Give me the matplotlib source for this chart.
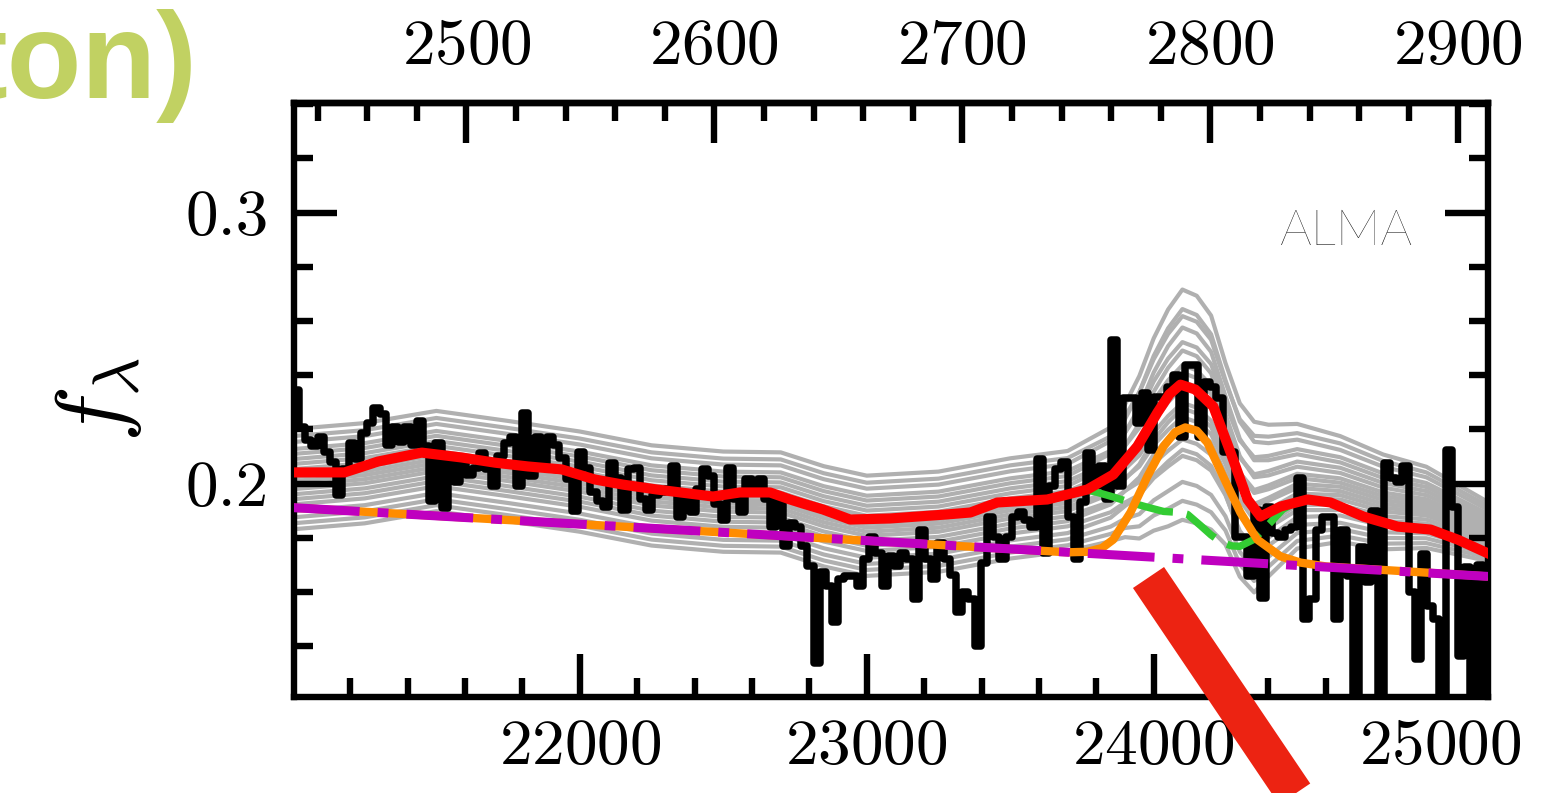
import numpy as np
import matplotlib
matplotlib.use("Agg")
import matplotlib.pyplot as plt
from matplotlib.lines import Line2D
from matplotlib.ticker import MultipleLocator, FormatStrFormatter

plt.rcParams["font.family"] = "serif"
plt.rcParams["font.serif"] = ["cmr10"]
plt.rcParams["mathtext.fontset"] = "cm"
plt.rcParams["axes.formatter.use_mathtext"] = True
plt.rcParams["axes.unicode_minus"] = False

# --- data ---
one_plus_z = 8.642          # observed / rest wavelength

# observed spectrum (channel fluxes, 21.6 A channels starting at 21000 A)
chan_start = 21000.0
chan_width = 21.6
spec_flux = [
    0.2347, 0.2210, 0.2162, 0.2137, 0.2170, 0.2118, 0.2081, 0.1959, 0.2052, 0.2151,
    0.2089, 0.2188, 0.2225, 0.2280, 0.2255, 0.2144, 0.2210, 0.2155, 0.2207, 0.2144,
    0.2229, 0.2137, 0.1934, 0.2151, 0.1911, 0.2077, 0.2007, 0.2077, 0.2033, 0.2059,
    0.2114, 0.2052, 0.1989, 0.2100, 0.2151, 0.2170, 0.1989, 0.2262, 0.2026, 0.2170,
    0.2077, 0.2170, 0.2144, 0.2096, 0.2015, 0.1897, 0.2118, 0.2059, 0.1967, 0.1934,
    0.1915, 0.2077, 0.2022, 0.1904, 0.2052, 0.2059, 0.1941, 0.1904, 0.1959, 0.1967,
    0.1978, 0.2063, 0.1875, 0.1941, 0.1893, 0.1978, 0.2052, 0.2026, 0.1923, 0.1867,
    0.2059, 0.1941, 0.1893, 0.2015, 0.1978, 0.2015, 0.1941, 0.1841, 0.1941, 0.1768,
    0.1856, 0.1841, 0.1768, 0.1694, 0.1339, 0.1672, 0.1620, 0.1487, 0.1646, 0.1657,
    0.1657, 0.1620, 0.1720, 0.1804, 0.1745, 0.1620, 0.1731, 0.1694, 0.1745, 0.1720,
    0.1572, 0.1830, 0.1720, 0.1646, 0.1782, 0.1720, 0.1664, 0.1524, 0.1598, 0.1572,
    0.1399, 0.1708, 0.1878, 0.1804, 0.1720, 0.1804, 0.1878, 0.1893, 0.1867, 0.1841,
    0.2089, 0.1745, 0.1989, 0.2052, 0.2081, 0.1878, 0.1720, 0.1930, 0.2114, 0.1989,
    0.2063, 0.1941, 0.2531, 0.1989, 0.2317, 0.2317, 0.2225, 0.2336, 0.2125, 0.2321,
    0.2321, 0.2358, 0.2402, 0.2173, 0.2439, 0.2439, 0.2173, 0.2373, 0.2358, 0.2317,
    0.2118, 0.2118, 0.1804, 0.1804, 0.1657, 0.1904, 0.1579, 0.1915, 0.1819, 0.1801,
    0.1830, 0.1841, 0.2022, 0.1498, 0.1572, 0.1830, 0.1878, 0.1878, 0.1498, 0.1830,
    0.1657, 0.1150, 0.1764, 0.1635, 0.1897, 0.1150, 0.2077, 0.2022, 0.2004, 0.2063,
    0.1598, 0.1351, 0.1738, 0.1546, 0.1498, 0.1150, 0.2125, 0.1915, 0.1362, 0.1690,
    0.1150, 0.1700, 0.1150,
]

# model draws (grey), sampled on a common wavelength grid
gray_wave = [21000, 21250, 21500, 21750, 22000, 22250, 22500, 22700, 22850, 23000,
             23250, 23500, 23700, 23850, 23900, 23950, 24000, 24050, 24100, 24150,
             24200, 24250, 24300, 24350, 24400, 24500, 24650, 24800, 24950, 25160]
gray_samples = [
    [.2201, .2223, .2268, .2231, .2192, .2141, .2118, .2115, .2064, .2029, .2044, .2093, .2120, .2207, .2292,
     .2397, .2536, .2642, .2716, .2693, .2620, .2445, .2296, .2228, .2217, .2220, .2175, .2107, .2062, .1935],
    [.2175, .2197, .2242, .2205, .2166, .2115, .2092, .2089, .2038, .2003, .2018, .2067, .2094, .2174, .2248,
     .2337, .2459, .2552, .2618, .2597, .2531, .2374, .2237, .2176, .2173, .2186, .2148, .2083, .2041, .1920],
    [.2153, .2175, .2220, .2183, .2144, .2093, .2070, .2067, .2016, .1981, .1996, .2045, .2072, .2157, .2238,
     .2338, .2471, .2573, .2644, .2622, .2551, .2382, .2229, .2154, .2149, .2162, .2124, .2062, .2023, .1906],
    [.2127, .2149, .2194, .2157, .2118, .2067, .2044, .2041, .1990, .1955, .1970, .2019, .2046, .2121, .2188,
     .2266, .2377, .2461, .2522, .2502, .2441, .2296, .2159, .2097, .2102, .2127, .2097, .2037, .2002, .1891],
    [.2109, .2131, .2176, .2139, .2100, .2049, .2026, .2023, .1972, .1937, .1952, .2001, .2028, .2110, .2188,
     .2282, .2410, .2507, .2576, .2554, .2486, .2323, .2165, .2086, .2086, .2108, .2078, .2020, .1987, .1880],
    [.2090, .2112, .2157, .2120, .2081, .2030, .2007, .2004, .1953, .1918, .1933, .1982, .2009, .2079, .2139,
     .2206, .2306, .2381, .2437, .2418, .2362, .2229, .2095, .2034, .2046, .2081, .2058, .2002, .1972, .1869],
    [.2072, .2094, .2139, .2102, .2063, .2012, .1989, .1986, .1935, .1900, .1915, .1964, .1991, .2068, .2139,
     .2222, .2339, .2427, .2491, .2470, .2407, .2256, .2101, .2023, .2030, .2062, .2039, .1985, .1957, .1858],
    [.2053, .2075, .2120, .2083, .2044, .1993, .1970, .1967, .1916, .1881, .1896, .1945, .1972, .2039, .2096,
     .2157, .2252, .2322, .2376, .2357, .2304, .2177, .2040, .1976, .1993, .2036, .2019, .1967, .1942, .1847],
    [.2038, .2060, .2105, .2068, .2029, .1978, .1955, .1952, .1901, .1866, .1881, .1930, .1957, .2029, .2093,
     .2165, .2271, .2350, .2409, .2389, .2331, .2192, .2041, .1965, .1979, .2020, .2003, .1953, .1930, .1838],
    [.2023, .2045, .2090, .2053, .2014, .1963, .1940, .1937, .1886, .1851, .1866, .1915, .1942, .2004, .2054,
     .2104, .2188, .2249, .2298, .2280, .2232, .2117, .1985, .1924, .1947, .1999, .1988, .1939, .1918, .1829],
    [.2009, .2031, .2076, .2039, .2000, .1949, .1926, .1923, .1872, .1837, .1852, .1901, .1928, .1998, .2058,
     .2125, .2225, .2300, .2356, .2337, .2281, .2148, .1996, .1917, .1936, .1984, .1972, .1925, .1906, .1821],
    [.1994, .2016, .2061, .2024, .1985, .1934, .1911, .1908, .1857, .1822, .1837, .1886, .1913, .1972, .2019,
     .2063, .2142, .2198, .2245, .2227, .2182, .2073, .1939, .1876, .1904, .1963, .1957, .1911, .1894, .1812],
    [.1979, .2001, .2046, .2009, .1970, .1919, .1896, .1893, .1842, .1807, .1822, .1871, .1898, .1962, .2016,
     .2071, .2161, .2226, .2278, .2259, .2209, .2088, .1940, .1865, .1890, .1947, .1941, .1897, .1882, .1803],
    [.1960, .1982, .2027, .1990, .1951, .1900, .1877, .1874, .1823, .1788, .1803, .1852, .1879, .1933, .1973,
     .2006, .2074, .2121, .2163, .2146, .2106, .2009, .1879, .1818, .1853, .1921, .1922, .1880, .1867, .1792],
    [.1942, .1964, .2009, .1972, .1933, .1882, .1859, .1856, .1805, .1770, .1785, .1834, .1861, .1923, .1973,
     .2023, .2107, .2168, .2217, .2199, .2151, .2036, .1886, .1807, .1837, .1902, .1902, .1862, .1852, .1781],
    [.1923, .1945, .1990, .1953, .1914, .1863, .1840, .1837, .1786, .1751, .1766, .1815, .1842, .1894, .1930,
     .1958, .2020, .2063, .2102, .2086, .2048, .1957, .1825, .1760, .1800, .1876, .1882, .1844, .1837, .1770],
    [.1898, .1920, .1965, .1928, .1889, .1838, .1815, .1812, .1761, .1726, .1741, .1790, .1817, .1874, .1917,
     .1956, .2029, .2081, .2125, .2108, .2065, .1962, .1813, .1733, .1771, .1847, .1855, .1820, .1816, .1755],
    [.1875, .1897, .1942, .1905, .1866, .1815, .1792, .1789, .1738, .1703, .1718, .1767, .1794, .1841, .1870,
     .1887, .1938, .1972, .2006, .1991, .1958, .1879, .1748, .1682, .1729, .1817, .1832, .1799, .1798, .1741],
    [.1853, .1875, .1920, .1883, .1844, .1793, .1770, .1767, .1716, .1681, .1696, .1745, .1772, .1814, .1836,
     .1842, .1882, .1907, .1936, .1922, .1894, .1827, .1702, .1640, .1693, .1788, .1808, .1778, .1780, .1728],
    [.1831, .1853, .1898, .1861, .1822, .1771, .1748, .1745, .1694, .1659, .1674, .1723, .1750, .1787, .1802,
     .1797, .1826, .1842, .1866, .1853, .1830, .1775, .1656, .1598, .1657, .1760, .1785, .1757, .1762, .1715],
]

# best-fit total model (red)
red_wave = [21000, 21180, 21296, 21449, 21589, 21704, 21819, 21937, 22052, 22150,
            22268, 22464, 22558, 22663, 22733, 22778, 22848, 22942, 23082, 23281,
            23361, 23455, 23629, 23769, 23859, 23943, 24013, 24055, 24093, 24145,
            24208, 24268, 24327, 24372, 24442, 24536, 24616, 24731, 24850, 24965,
            25059, 25165]
red_flux = [0.2041, 0.2041, 0.2081, 0.2114, 0.2096, 0.2077, 0.2063, 0.2052, 0.2015, 0.1996,
            0.1978, 0.1952, 0.1967, 0.1967, 0.1941, 0.1926, 0.1904, 0.1867, 0.1871, 0.1886,
            0.1893, 0.1930, 0.1941, 0.1978, 0.2033, 0.2137, 0.2262, 0.2330, 0.2365, 0.2347,
            0.2284, 0.2114, 0.1941, 0.1878, 0.1915, 0.1941, 0.1930, 0.1878, 0.1841, 0.1830,
            0.1793, 0.1742]

# continuum + Mg II line (orange)
orange_wave = [21000, 23700, 23769, 23820, 23859, 23919, 23978, 24034, 24075, 24110,
               24150, 24187, 24242, 24302, 24361, 24442, 24512, 24600, 25165]
orange_flux = [0.1911, 0.1746, 0.1748, 0.1762, 0.1793, 0.1893, 0.2026, 0.2137, 0.2190, 0.2207,
               0.2195, 0.2151, 0.2026, 0.1893, 0.1793, 0.1731, 0.1708, 0.1694, 0.1657]

# model without the Mg II line (green, dashed)
green_wave = [23772, 23804, 23860, 23919, 23980, 24034, 24093, 24118, 24163, 24200,
              24233, 24270, 24300, 24348, 24407, 24450, 24480]
green_flux = [0.1975, 0.1967, 0.1950, 0.1930, 0.1912, 0.1897, 0.1893, 0.1886, 0.1845, 0.1810,
              0.1785, 0.1770, 0.1768, 0.1793, 0.1856, 0.1905, 0.1922]

# power-law continuum (magenta, dash-dot)
cont_wave = [21000, 25165]
cont_flux = [0.1911, 0.1657]

spec_wave = chan_start + chan_width * (np.arange(len(spec_flux)) + 0.5)

# --- figure ---
fig = plt.figure(figsize=(15.64, 7.93), dpi=100)
ax = fig.add_axes([0.1880, 0.1211, 0.7634, 0.7491])

for sample in gray_samples:
    ax.plot(gray_wave, sample, color="#b0b0b0", lw=3.0, zorder=1)
ax.plot(spec_wave, spec_flux, drawstyle="steps-mid", color="black", lw=5.4, zorder=2)
ax.plot(green_wave, green_flux, color="#33cc33", lw=5.3, dashes=(5.0, 1.9), zorder=3)
ax.plot(orange_wave, orange_flux, color="#ff8c00", lw=6.0, zorder=4)
ax.plot(cont_wave, cont_flux, color="#bf00bf", lw=6.5, dashes=(7.4, 2.0, 1.2, 2.0), zorder=5)
ax.plot(red_wave, red_flux, color="#ff0000", lw=7.3, zorder=6)

ax.set_xlim(21004, 25165)
ax.set_ylim(0.1212, 0.3405)

ax.xaxis.set_major_locator(MultipleLocator(1000))
ax.xaxis.set_minor_locator(MultipleLocator(200))
ax.yaxis.set_major_locator(MultipleLocator(0.1))
ax.yaxis.set_minor_locator(MultipleLocator(0.02))
ax.yaxis.set_major_formatter(FormatStrFormatter("%.1f"))

ax.tick_params(which="both", direction="in", width=4.6, labelsize=47)
ax.tick_params(which="major", length=31)
ax.tick_params(which="minor", length=14)
ax.tick_params(axis="x", which="both", top=False, bottom=True, pad=16)
ax.tick_params(axis="y", which="both", left=True, right=True, pad=18)
for sp in ax.spines.values():
    sp.set_linewidth(4.6)

sec = ax.secondary_xaxis("top", functions=(lambda w: w / one_plus_z,
                                           lambda w: w * one_plus_z))
sec.xaxis.set_major_locator(MultipleLocator(100))
sec.xaxis.set_minor_locator(MultipleLocator(20))
sec.tick_params(which="both", direction="in", width=4.6, labelsize=47, pad=19)
sec.tick_params(which="major", length=29)
sec.tick_params(which="minor", length=13)
sec.spines["top"].set_linewidth(4.6)

ax.set_ylabel(r"$f_\lambda$", fontsize=68, labelpad=30)

fig.text(1280 / 1564, 1 - 245 / 793, "ALMA", fontsize=36, family=["Lato", "DejaVu Sans"],
         fontweight=100, color="black", ha="left", va="baseline")

# slide decorations around the plot
fig.text(197 / 1564, 1 - 98 / 793, "ton)", fontsize=88,
         family=["Liberation Sans Narrow", "Liberation Sans", "DejaVu Sans"],
         fontweight="bold", color="#c1d162", ha="right", va="baseline")
fig.add_artist(Line2D([1148.5 / 1564, 1319 / 1564], [1 - 577.5 / 793, 1 - 830 / 793],
                      transform=fig.transFigure, color="#ec2312", lw=27,
                      solid_capstyle="butt"))

fig.savefig("out.png", dpi=100)
